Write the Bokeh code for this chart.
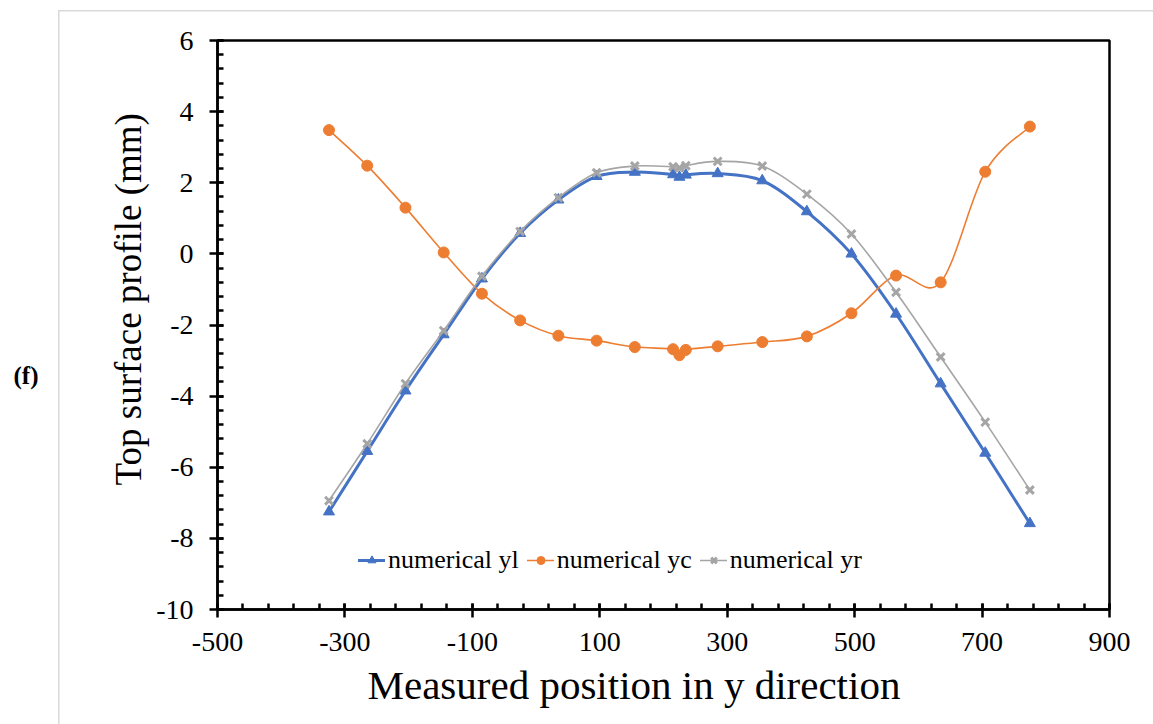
import numpy as np
from bokeh.plotting import figure
from bokeh.models import (Range1d, FixedTicker, Legend, LegendItem, Title,
                          LinearAxis)
from bokeh.embed import file_html
from bokeh.resources import INLINE

# Measured position along y (mm) and computed top-surface profiles (mm)
position = [-325, -265, -205, -145, -85, -25, 35, 95, 155, 215, 225, 235,
            285, 355, 425, 495, 565, 635, 705, 775]
numerical_yl = [-7.25, -5.55, -3.85, -2.27, -0.70, 0.58, 1.52, 2.18, 2.30, 2.23,
                2.16, 2.22, 2.26, 2.06, 1.19, 0.00, -1.69, -3.65, -5.60, -7.58]
numerical_yc = [3.48, 2.48, 1.30, 0.04, -1.12, -1.87, -2.30, -2.44, -2.62, -2.68,
                -2.85, -2.70, -2.60, -2.48, -2.32, -1.67, -0.61, -0.80, 2.31, 3.58]
numerical_yr = [-6.94, -5.34, -3.65, -2.16, -0.63, 0.63, 1.58, 2.28, 2.47, 2.45,
                2.42, 2.48, 2.60, 2.47, 1.68, 0.56, -1.08, -2.90, -4.73, -6.64]

x_ticks = [-500, -300, -100, 100, 300, 500, 700, 900]
y_ticks = [-10, -8, -6, -4, -2, 0, 2, 4, 6]

SERIF = "Liberation Serif"


def smooth_segments(xs, ys):
    """Cubic Bezier segments through the points (Catmull-Rom style tangents)."""
    x = np.asarray(xs, float)
    y = np.asarray(ys, float)
    n = len(x)
    xp = np.concatenate([[x[0]], x, [x[-1]]])
    yp = np.concatenate([[y[0]], y, [y[-1]]])
    return dict(
        x0=x[:-1], y0=y[:-1], x1=x[1:], y1=y[1:],
        cx0=x[:-1] + (xp[2:n + 1] - xp[0:n - 1]) / 6.0,
        cy0=y[:-1] + (yp[2:n + 1] - yp[0:n - 1]) / 6.0,
        cx1=x[1:] - (xp[3:n + 2] - xp[1:n]) / 6.0,
        cy1=y[1:] - (yp[3:n + 2] - yp[1:n]) / 6.0,
    )


p = figure(width=1153, height=724, output_backend="svg", toolbar_location=None,
           x_range=Range1d(-500, 900), y_range=Range1d(-10, 6),
           min_border_left=217, min_border_right=44, min_border_top=40,
           min_border_bottom=115)

# thin light-grey chart-area border (left and top edges)
p.border_fill_alpha = 0
p.styles = {
    "background-color": "white",
    "background-image": "linear-gradient(#D9D9D9, #D9D9D9), "
                        "linear-gradient(#D9D9D9, #D9D9D9)",
    "background-size": "1.5px 720px, 1100px 1.5px",
    "background-position": "57.5px 10px, 57.5px 10px",
    "background-repeat": "no-repeat",
}

p.xgrid.visible = False
p.ygrid.visible = False
p.outline_line_color = "black"
p.outline_line_width = 2.5
p.background_fill_color = "white"

p.xaxis.ticker = FixedTicker(ticks=x_ticks,
                             minor_ticks=list(range(-500, 901, 40)))
p.yaxis.ticker = FixedTicker(ticks=y_ticks,
                             minor_ticks=[round(v * 0.4, 1) for v in range(-25, 16)])
p.xaxis.major_label_overrides = {t: str(t) for t in x_ticks}
p.yaxis.major_label_overrides = {t: str(t) for t in y_ticks}

for ax in (p.xaxis[0], p.yaxis[0]):
    ax.axis_line_color = "black"
    ax.axis_line_width = 2.5
    ax.major_tick_line_color = "black"
    ax.major_tick_line_width = 2.5
    ax.minor_tick_line_color = "black"
    ax.minor_tick_line_width = 2.5
    ax.major_tick_in = 6
    ax.major_tick_out = 8
    ax.minor_tick_in = 6
    ax.minor_tick_out = 0
    ax.major_label_text_font = SERIF
    ax.major_label_text_font_size = "28px"
    ax.major_label_text_color = "black"
p.xaxis.major_label_standoff = 15
p.yaxis.major_label_standoff = 16

series = [
    ("numerical yl", numerical_yl, "#4472C4", 3.0, "triangle", 11),
    ("numerical yc", numerical_yc, "#ED7D31", 1.6, "circle", 11),
    ("numerical yr", numerical_yr, "#A5A5A5", 1.6, "x", 11),
]

items = []
for name, vals, color, lw, marker, msize in series:
    curve = p.bezier(line_color=color, line_width=lw, line_cap="round",
                     **smooth_segments(position, vals))
    if marker == "x":
        pts = p.scatter(position, vals, marker=marker, size=msize,
                        line_color=color, line_width=3)
    else:
        pts = p.scatter(position, vals, marker=marker, size=msize,
                        fill_color=color, line_color=color)
    items.append(LegendItem(label=name, renderers=[curve, pts]))

legend = Legend(items=items, orientation="horizontal", location=(141, 34),
                padding=0, margin=0, spacing=8, glyph_width=27, glyph_height=20,
                label_standoff=3, label_text_font=SERIF,
                label_text_font_size="26px", label_text_color="black",
                border_line_alpha=0, background_fill_alpha=0)
p.add_layout(legend, "center")

# axis titles
p.add_layout(Title(text="Measured position in y direction", align="left",
                   offset=150, text_font=SERIF, text_font_size="41px",
                   text_font_style="normal", text_color="black", standoff=13),
             "below")
p.add_layout(Title(text="Top surface profile (mm)", align="left",
                   offset=124, text_font=SERIF, text_font_size="37px",
                   text_font_style="normal", text_color="black", standoff=9),
             "left")

# panel tag "(f)", carried by a bare outer axis on the left
tag_y = -3.42
tag_axis = LinearAxis(ticker=FixedTicker(ticks=[tag_y]),
                      major_label_overrides={tag_y: "(f)"},
                      axis_line_color=None, major_tick_line_color=None,
                      minor_tick_line_color=None, major_label_standoff=57,
                      major_label_text_font=SERIF,
                      major_label_text_font_size="25px",
                      major_label_text_font_style="bold",
                      major_label_text_color="black")
p.add_layout(tag_axis, "left")

open("out.html", "w").write(file_html(p, INLINE))
